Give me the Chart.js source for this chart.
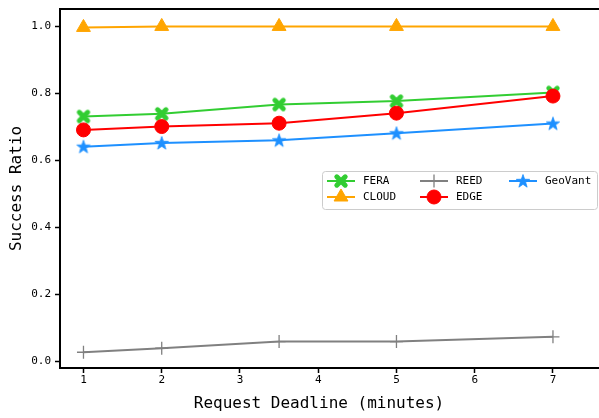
<!DOCTYPE html>
<html><head><meta charset="utf-8">
<script src="https://cdn.jsdelivr.net/npm/chart.js@4"></script>
<style>html,body{margin:0;padding:0;background:#fff;} #wrap{width:599px;height:418px;}</style>
</head><body><div id="wrap"><canvas id="c" width="599" height="418"></canvas></div>
<script>
const deadlines = [1, 2, 3.5, 5, 7];
const xTicks = [1, 2, 3, 4, 5, 6, 7];
const yTicks = [0.0, 0.2, 0.4, 0.6, 0.8, 1.0];
const seriesNames = ['FERA', 'CLOUD', 'REED', 'EDGE', 'GeoVant'];
const fera = [0.731, 0.739, 0.767, 0.777, 0.803];
const cloud = [0.997, 1.0, 1.0, 1.0, 1.0];
const reed = [0.027, 0.039, 0.059, 0.059, 0.073];
const edge = [0.691, 0.701, 0.711, 0.741, 0.792];
const geovant = [0.641, 0.652, 0.660, 0.681, 0.710];
const xLabel = 'Request Deadline (minutes)';
const yLabel = 'Success Ratio';

const FONT = 'DejaVu Sans Mono';

function makeX(color) {
  const s = 16, c = document.createElement('canvas');
  c.width = s; c.height = s;
  const g = c.getContext('2d');
  g.strokeStyle = color; g.lineWidth = 5; g.lineCap = 'round';
  const a = 4.2, m = s / 2;
  g.beginPath();
  g.moveTo(m - a, m - a); g.lineTo(m + a, m + a);
  g.moveTo(m + a, m - a); g.lineTo(m - a, m + a);
  g.stroke();
  return c;
}
function makeStar(color, R) {
  const s = Math.ceil(2 * R + 2), c = document.createElement('canvas');
  c.width = s; c.height = s;
  const g = c.getContext('2d');
  const m = s / 2, r = R * 0.4;
  g.beginPath();
  for (let i = 0; i < 10; i++) {
    const ang = -Math.PI / 2 + i * Math.PI / 5;
    const rad = i % 2 === 0 ? R : r;
    const px = m + rad * Math.cos(ang), py = m + 0.5 + rad * Math.sin(ang);
    if (i === 0) g.moveTo(px, py); else g.lineTo(px, py);
  }
  g.closePath();
  g.fillStyle = color; g.fill();
  g.strokeStyle = color; g.lineWidth = 0.8; g.stroke();
  return c;
}

const GREEN = '#32CD32', ORANGE = '#FFA500', GRAY = '#808080', RED = '#FF0000', BLUE = '#1E90FF';
const xImg = makeX(GREEN);
const starImg = makeStar(BLUE, 7);

function pts(arr) { return deadlines.map((x, i) => ({x: x, y: arr[i]})); }

const datasets = [
  {label: seriesNames[0], data: pts(fera), borderColor: GREEN, backgroundColor: GREEN, pointStyle: xImg, pointRadius: 7, order: 5},
  {label: seriesNames[1], data: pts(cloud), borderColor: ORANGE, backgroundColor: ORANGE, pointStyle: 'triangle', pointRadius: 8, pointBorderWidth: 1, order: 4},
  {label: seriesNames[2], data: pts(reed), borderColor: GRAY, backgroundColor: GRAY, pointStyle: 'cross', pointRadius: 6.5, pointBorderWidth: 1.3, order: 3},
  {label: seriesNames[3], data: pts(edge), borderColor: RED, backgroundColor: RED, pointStyle: 'circle', pointRadius: 7, pointBorderWidth: 1, order: 2},
  {label: seriesNames[4], data: pts(geovant), borderColor: BLUE, backgroundColor: BLUE, pointStyle: starImg, pointRadius: 7, order: 1}
].map(d => Object.assign({borderWidth: 2, tension: 0, fill: false, clip: false}, d));

const frameLines = {
  id: 'frameLines',
  afterDraw(chart) {
    const {ctx, chartArea} = chart;
    ctx.save();
    ctx.strokeStyle = '#000'; ctx.lineWidth = 2;
    ctx.beginPath();
    ctx.moveTo(chartArea.left - 1, chartArea.top);
    ctx.lineTo(chart.width, chartArea.top);
    ctx.moveTo(chartArea.right - 1, chartArea.bottom);
    ctx.lineTo(chart.width, chartArea.bottom);
    ctx.stroke();
    ctx.restore();
  }
};

const boxLegend = {
  id: 'boxLegend',
  afterDraw(chart) {
    const ctx = chart.ctx;
    const bx = chart.width - 277, by = chart.chartArea.top + 162, bw = 275, bh = 38;
    ctx.save();
    ctx.fillStyle = 'rgba(255,255,255,0.85)';
    ctx.strokeStyle = '#cccccc'; ctx.lineWidth = 1;
    ctx.beginPath();
    if (ctx.roundRect) ctx.roundRect(bx + 0.5, by + 0.5, bw, bh, 3); else ctx.rect(bx + 0.5, by + 0.5, bw, bh);
    ctx.fill(); ctx.stroke();
    const colX = [5, 98, 187];
    const rowY = [10, 26];
    chart.data.datasets.forEach((ds, i) => {
      const col = Math.floor(i / 2), row = i % 2;
      const x0 = bx + colX[col], y0 = by + rowY[row];
      ctx.strokeStyle = ds.borderColor; ctx.lineWidth = 2;
      ctx.beginPath(); ctx.moveTo(x0, y0); ctx.lineTo(x0 + 28, y0); ctx.stroke();
      ctx.fillStyle = ds.backgroundColor; ctx.strokeStyle = ds.borderColor;
      ctx.lineWidth = ds.pointBorderWidth || 1;
      Chart.helpers.drawPoint(ctx, {pointStyle: ds.pointStyle, radius: ds.pointRadius, rotation: 0, borderWidth: ds.pointBorderWidth || 1}, x0 + 14, y0);
      ctx.fillStyle = '#000';
      ctx.font = '11px "' + FONT + '"';
      ctx.textBaseline = 'middle'; ctx.textAlign = 'left';
      ctx.fillText(ds.label, x0 + 36, y0 + 0.5);
    });
    ctx.restore();
  }
};

new Chart(document.getElementById('c'), {
  type: 'line',
  data: {datasets: datasets},
  plugins: [frameLines, boxLegend],
  options: {
    responsive: false,
    animation: false,
    events: [],
    layout: {padding: {left: 0, right: 21, top: 7, bottom: 0}},
    plugins: {legend: {display: false}, tooltip: {enabled: false}},
    scales: {
      x: {
        type: 'linear', min: 0.7, max: 7.32,
        afterBuildTicks: s => { s.ticks = xTicks.map(v => ({value: v})); },
        afterFit: s => { s.height = 50; s.paddingLeft = 0; s.paddingRight = 0; },
        ticks: {font: {family: FONT, size: 11}, color: '#000', padding: 1, maxRotation: 0, callback: v => String(v)},
        grid: {display: true, drawOnChartArea: false, drawTicks: true, tickLength: 5, tickColor: '#000', tickWidth: 1.5},
        border: {display: true, color: '#000', width: 2},
        title: {display: true, text: xLabel, color: '#000', font: {family: FONT, size: 16}, padding: {top: 0, bottom: 5}}
      },
      y: {
        type: 'linear', min: -0.02, max: 1.052,
        afterBuildTicks: s => { s.ticks = yTicks.map(v => ({value: v})); },
        afterFit: s => { s.width = 60; s.paddingTop = 0; s.paddingBottom = 0; },
        ticks: {font: {family: FONT, size: 11}, color: '#000', padding: 4, callback: v => Number(v).toFixed(1)},
        grid: {display: true, drawOnChartArea: false, drawTicks: true, tickLength: 5, tickColor: '#000', tickWidth: 1.5},
        border: {display: true, color: '#000', width: 2},
        title: {display: true, text: yLabel, color: '#000', font: {family: FONT, size: 16}, padding: {top: 7, bottom: 0}}
      }
    }
  }
});
</script>
</body></html>
